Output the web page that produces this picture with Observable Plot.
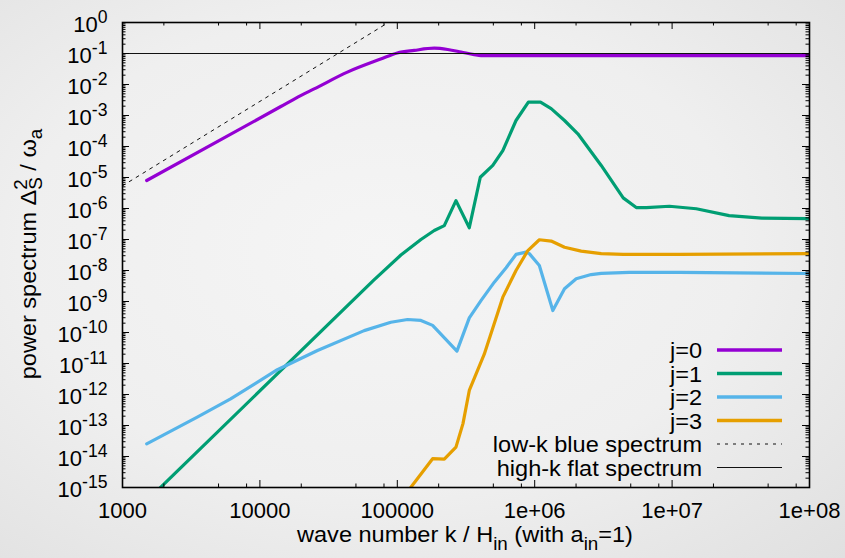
<!DOCTYPE html>
<html><head><meta charset="utf-8">
<script src="https://cdn.jsdelivr.net/npm/d3@7"></script>
<script src="https://cdn.jsdelivr.net/npm/@observablehq/plot@0.6"></script>
<style>
html,body{margin:0;padding:0;}
body{width:845px;height:558px;overflow:hidden;background:radial-gradient(ellipse at 45% 45%, #f5f5f5 0%, #efefef 55%, #e0e0e0 100%);font-family:"Liberation Sans",Arial,sans-serif;}
#chart svg{display:block;}
</style></head><body><div id="chart"></div>
<script>
// j=0
const k0 = [1500, 14200, 19800, 24800, 43300, 75700, 100000, 132700, 185800, 232800, 291100, 363100, 406400, 1e6, 1e7, 1e8];
const v0 = [8e-6, 1.95e-3, 4.4e-3, 7.2e-3, 2.5e-2, 6.6e-2, 0.104, 0.126, 0.148, 0.135, 0.112, 0.092, 0.086, 0.085, 0.085, 0.085];
// j=1
const k1 = [1500, 67100, 106200, 148600, 185800, 219800, 267300, 334200, 401800, 495500, 586100, 731100, 899500, 1102000, 1318000, 1648000, 2061000, 3048000, 4406000, 5483000, 6490000, 9550000, 1.5e7, 2.6e7, 4.5e7, 1e8];
const v1 = [3.7e-16, 4.8e-9, 3.16e-8, 1.0e-7, 1.95e-7, 2.8e-7, 1.8e-6, 2.4e-7, 1.02e-5, 2.45e-5, 7.4e-5, 6.9e-4, 2.7e-3, 2.7e-3, 1.66e-3, 6.9e-4, 2.57e-4, 2.45e-5, 2.2e-6, 1.07e-6, 1.07e-6, 1.18e-6, 9.8e-7, 5.9e-7, 4.9e-7, 4.7e-7];
// j=2
const k2 = [1500, 3500, 6120, 13400, 26250, 57400, 89800, 118800, 148600, 180700, 271600, 334200, 406400, 508200, 619400, 731100, 865000, 914200, 1081000, 1355000, 1648000, 2004000, 2576000, 3048000, 4876000, 1.13e7, 1e8];
const v2 = [2.57e-14, 1.86e-13, 7.2e-13, 6.3e-12, 2.63e-11, 1.15e-10, 2.14e-10, 2.63e-10, 2.45e-10, 1.7e-10, 2.5e-11, 2.97e-10, 1.07e-9, 4.2e-9, 1.23e-8, 3.3e-8, 3.9e-8, 3.5e-8, 1.45e-8, 5.1e-10, 2.57e-9, 5.4e-9, 7.4e-9, 8.1e-9, 8.7e-9, 8.7e-9, 8.0e-9];
// j=3
const k3 = [97700, 125600, 180700, 219800, 267300, 300600, 334200, 429500, 586100, 731100, 891300, 1081000, 1318000, 1648000, 2178000, 3048000, 4406000, 1.13e7, 1e8];
const v3 = [2.45e-16, 1.02e-15, 8.5e-15, 8.2e-15, 2.0e-14, 1.15e-13, 1.35e-12, 2.0e-11, 1.38e-9, 1.0e-8, 4.4e-8, 9.8e-8, 8.9e-8, 5.6e-8, 4.2e-8, 3.5e-8, 3.3e-8, 3.3e-8, 3.5e-8];
// reference spectra
const lowKk = [1000, 86100];
const lowKv = [5.4e-6, 1];
const flatK = [1000, 1e8];
const flatV = [0.1, 0.1];

const xMajor = [1e3, 1e4, 1e5, 1e6, 1e7, 1e8];
const xTickLabels = ["1000", "10000", "100000", "1e+06", "1e+07", "1e+08"];
const xMinorMult = [2, 5, 8];
const yExponents = [0, -1, -2, -3, -4, -5, -6, -7, -8, -9, -10, -11, -12, -13, -14, -15];
const yMinorMult = [2, 3, 4, 5, 6, 7, 8, 9];
const seriesNames = ["j=0", "j=1", "j=2", "j=3"];
const refNames = ["low-k blue spectrum", "high-k flat spectrum"];
const colors = ["#9400d3", "#009e73", "#56b4e9", "#e69f00"];
const curves = ["monotone-x", "linear", "linear", "linear"];

const W = 845, H = 558, mL = 122, mR = 36, mT = 22, mB = 71;
const plotW = W - mL - mR, plotH = H - mT - mB;
const FONT = '"Liberation Sans", Arial, Helvetica, sans-serif';
const SX = 1.07; // horizontal text stretch seen in the reference

const toRows = (k, v) => k.map((kk, i) => ({k: kk, v: v[i]}));
const series = [[k0, v0], [k1, v1], [k2, v2], [k3, v3]].map(([k, v]) => toRows(k, v));
const lowK = toRows(lowKk, lowKv);
const flat = toRows(flatK, flatV);
const xMinor = xMajor.slice(0, -1).flatMap(d => xMinorMult.map(m => m * d));
const yMajor = yExponents.map(e => Math.pow(10, e));
const yMinor = yMajor.slice(1).flatMap(d => yMinorMult.map(m => m * d));

const tickStyle = {stroke: "#000", strokeWidth: 1};
const chart = Plot.plot({
  width: W, height: H,
  marginLeft: mL, marginRight: mR, marginTop: mT, marginBottom: mB,
  style: {background: "none", fontFamily: FONT, fontSize: "22px", color: "#000", overflow: "visible"},
  x: {type: "log", domain: [1e3, 1e8]},
  y: {type: "log", domain: [1e-15, 1]},
  marks: [
    ...series.map((s, i) => Plot.line(s, {x: "k", y: "v", stroke: colors[i], strokeWidth: 3.2, curve: curves[i], clip: true})),
    Plot.line(lowK, {x: "k", y: "v", stroke: "#111", strokeWidth: 1, strokeDasharray: "3,5", clip: true}),
    Plot.line(flat, {x: "k", y: "v", stroke: "#111", strokeWidth: 1, clip: true}),
    // inward ticks, gnuplot style
    Plot.tickX(xMajor, {x: d => d, insetBottom: plotH - 7, ...tickStyle}),
    Plot.tickX(xMajor, {x: d => d, insetTop: plotH - 7, ...tickStyle}),
    Plot.tickX(xMinor, {x: d => d, insetBottom: plotH - 3.5, ...tickStyle}),
    Plot.tickX(xMinor, {x: d => d, insetTop: plotH - 3.5, ...tickStyle}),
    Plot.tickY(yMajor, {y: d => d, insetRight: plotW - 7, ...tickStyle}),
    Plot.tickY(yMajor, {y: d => d, insetLeft: plotW - 7, ...tickStyle}),
    Plot.tickY(yMinor, {y: d => d, insetRight: plotW - 3.5, ...tickStyle}),
    Plot.tickY(yMinor, {y: d => d, insetLeft: plotW - 3.5, ...tickStyle}),
    Plot.frame({stroke: "#000", strokeWidth: 1.6}),
    Plot.axisX(xMajor, {tickSize: 0, tickPadding: 15, label: null, fontSize: 22,
      tickFormat: d => xTickLabels[xMajor.indexOf(d)]}),
    Plot.axisY(yMajor, {tickSize: 0, tickPadding: 15, label: null, fontSize: 22,
      tickFormat: d => String(Math.round(Math.log10(d)))})
  ]
});
document.getElementById("chart").appendChild(chart);

const svg = d3.select(chart);
// y tick labels as 10^n with superscript
svg.selectAll('g[aria-label="y-axis tick label"] text').each(function() {
  const e = this.textContent;
  const t = d3.select(this);
  t.text("");
  t.append("tspan").attr("dy", 2.5).text("10");
  t.append("tspan").attr("dy", -9).attr("font-size", 17.6).text(e);
});

// legend
const lg = svg.append("g").attr("font-family", FONT).attr("font-size", 22).attr("fill", "#000");
const legendLabels = [...seriesNames, ...refNames];
legendLabels.forEach((lab, i) => {
  const y = 350 + i * 23.5;
  lg.append("text").attr("transform", `translate(702,${y + 8}) scale(${SX},1)`)
    .attr("text-anchor", "end").text(lab);
  lg.append("line").attr("x1", 717).attr("x2", 782).attr("y1", y).attr("y2", y)
    .attr("stroke", i < 4 ? colors[i] : "#111")
    .attr("stroke-width", i < 4 ? 3.5 : 1)
    .attr("stroke-dasharray", i === 4 ? "3,5" : null);
});

// axis titles
const yl = svg.append("text").attr("transform", `translate(36,254) rotate(-90) scale(${SX},1)`)
  .attr("text-anchor", "middle").attr("font-family", FONT).attr("font-size", 22);
yl.append("tspan").text("power spectrum Δ");
yl.append("tspan").attr("font-size", 17.6).attr("dy", -9).text("2");
yl.append("tspan").attr("font-size", 17.6).attr("dx", -9.8).attr("dy", 15).text("S");
yl.append("tspan").attr("dy", -6).text(" / ω");
yl.append("tspan").attr("font-size", 17.6).attr("dy", 6).text("a");

const xl = svg.append("text").attr("transform", `translate(465,542) scale(${SX},1)`)
  .attr("text-anchor", "middle").attr("font-family", FONT).attr("font-size", 22);
xl.append("tspan").text("wave number k / H");
xl.append("tspan").attr("font-size", 17.6).attr("dy", 8).text("in");
xl.append("tspan").attr("dy", -8).text(" (with a");
xl.append("tspan").attr("font-size", 17.6).attr("dy", 8).text("in");
xl.append("tspan").attr("dy", -8).text("=1)");
</script>
</body></html>
